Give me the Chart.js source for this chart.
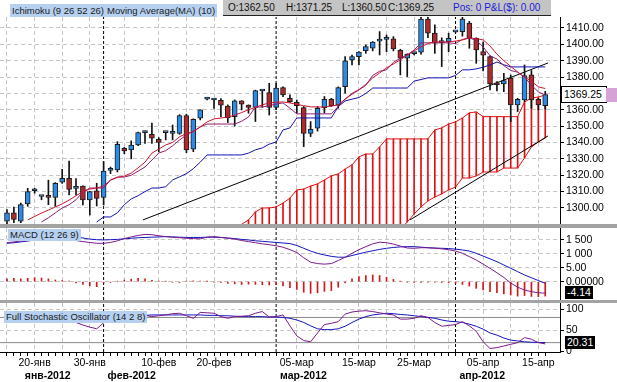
<!DOCTYPE html>
<html><head><meta charset="utf-8">
<script src="https://cdn.jsdelivr.net/npm/chart.js@4.4.1/dist/chart.umd.min.js"></script>
<style>
html,body{margin:0;padding:0;background:#fff;}
body{width:617px;height:382px;position:relative;overflow:hidden;font-family:"Liberation Sans",Arial,sans-serif;}
canvas{position:absolute;left:0;display:block;}
.lbl{position:absolute;height:13px;line-height:13px;font-size:9.5px;color:#1a1a1a;background:#b5d0f0;padding:0 2px;white-space:nowrap;}
.sep{position:absolute;left:0;width:617px;background:#a3a3a3;}
.hdr{position:absolute;top:0;left:223px;width:328px;height:15px;background:#c4c4c4;border-bottom:1px solid #222;}
.hdr span{position:absolute;top:2px;font-size:10px;line-height:12px;white-space:nowrap;color:#111;}
.box{position:absolute;font-size:10.5px;line-height:15px;height:15px;white-space:nowrap;padding:0 2px;}
</style></head>
<body>
<canvas id="cMain" width="617" height="224" style="top:0"></canvas>
<div class="sep" style="top:224px;height:4px"></div>
<canvas id="cMacd" width="617" height="72" style="top:228px"></canvas>
<div class="sep" style="top:300px;height:3px"></div>
<canvas id="cSto" width="617" height="79" style="top:303px"></canvas>

<div class="lbl" style="left:10px;top:4px">Ichimoku (9 26 52 26)</div>
<div class="lbl" style="left:105px;top:4px">Moving Average(MA) (10)</div>
<div class="hdr"><span id="hO" style="left:5px"></span><span id="hH" style="left:63px"></span><span id="hL" style="left:119px"></span><span id="hC" style="left:165px"></span><span style="left:230px;color:#1a1ad8">Pos: 0 P&amp;L($): 0.00</span></div>
<div class="lbl" style="left:8px;top:229px;height:12px;line-height:12px">MACD (12 26 9)</div>
<div class="lbl" style="left:4px;top:311px;height:12px;line-height:12px">Full Stochastic Oscillator (14 2 8)</div>
<div id="priceBox" class="box" style="left:561px;width:40px;background:#fff;border:1px solid #000;height:15px;line-height:15px;color:#000"></div>
<div id="priceTag" style="position:absolute;left:606px;width:11px;height:14px;background:#d6a3d6"></div>
<div id="macdBox" class="box" style="left:565px;background:#000;color:#fff;height:13px;line-height:13px"></div>
<div id="stoBox" class="box" style="left:565px;background:#000;color:#fff;height:13px;line-height:13px"></div>

<script>
// ---------------- DATA ----------------
const dates = [
 '2012-01-15','2012-01-17','2012-01-18','2012-01-19','2012-01-20','2012-01-22','2012-01-23','2012-01-24','2012-01-25','2012-01-26',
 '2012-01-27','2012-01-29','2012-01-30','2012-01-31','2012-02-01','2012-02-02','2012-02-03','2012-02-05','2012-02-06','2012-02-07',
 '2012-02-08','2012-02-09','2012-02-10','2012-02-12','2012-02-13','2012-02-14','2012-02-15','2012-02-16','2012-02-17','2012-02-19',
 '2012-02-20','2012-02-21','2012-02-22','2012-02-23','2012-02-24','2012-02-26','2012-02-27','2012-02-28','2012-02-29','2012-03-01',
 '2012-03-02','2012-03-04','2012-03-05','2012-03-06','2012-03-07','2012-03-08','2012-03-09','2012-03-11','2012-03-12','2012-03-13',
 '2012-03-14','2012-03-15','2012-03-16','2012-03-18','2012-03-19','2012-03-20','2012-03-21','2012-03-22','2012-03-23','2012-03-25',
 '2012-03-26','2012-03-27','2012-03-28','2012-03-29','2012-03-30','2012-04-01','2012-04-02','2012-04-03','2012-04-04','2012-04-05',
 '2012-04-06','2012-04-08','2012-04-09','2012-04-10','2012-04-11','2012-04-12','2012-04-13','2012-04-15','2012-04-16'];

const opens = [
 1292,1297,1292,1302.5,1310.5,1307,1307,1306.5,1315.7,1318.1,
 1312,1313.4,1304.9,1310.4,1306.5,1323,1323.2,1336.5,1335.5,1338.5,
 1346,1345,1342,1346,1345.6,1345.6,1356.4,1335.9,1354.8,1366.5,
 1366,1365.8,1362.3,1355.8,1365.4,1362.9,1361.5,1371.5,1370.5,1361.5,
 1373.5,1367,1364.6,1361.3,1345.6,1348.7,1361.3,1366.4,1362.9,1374.2,
 1390.5,1392.5,1396.2,1397.6,1402,1403,1403.3,1396.4,1391.5,1394.3,
 1395.2,1415.5,1406.8,1401,1401.7,1407.6,1407.8,1413,1403.7,1395.5,
 1392.5,1375.6,1375.8,1379.3,1363,1366,1381.3,1366.4,1362.5];
const highs = [
 1299,1300.6,1303,1312,1312,1307.3,1317,1315.5,1323.6,1328.7,
 1318,1313.6,1310.2,1315.1,1328.3,1325,1340.5,1337,1341,1346.3,
 1347,1351.8,1343,1346.5,1350.7,1357,1357.3,1354.5,1360,1367.5,
 1366.6,1366.8,1363,1366,1365.6,1363,1372,1372,1376.2,1376.2,
 1374,1369.1,1366,1362,1352.8,1362,1368.1,1367,1374,1392.5,
 1393.5,1395.6,1399.6,1401.7,1407.8,1405.7,1404.7,1397,1394.2,1395,
 1417,1417,1411.9,1404,1406.8,1408,1417,1414,1404,1401.3,
 1393,1377.2,1382.3,1381.3,1367,1387.4,1384,1367,1371.25];
const lows = [
 1290,1291,1291,1301,1309,1305,1302,1301,1315,1307.9,
 1308,1301.8,1295.7,1301.2,1301.8,1321,1322,1333,1330,1338,
 1339.5,1339.5,1334.4,1341.6,1341.6,1345,1333.8,1334.4,1353.8,1366,
 1360.9,1355.8,1352.2,1350.1,1359.9,1357.9,1352.8,1361.5,1356.8,1360,
 1368,1364.5,1357.9,1337.5,1343.6,1347,1358,1362,1361,1370.1,
 1387.4,1387.4,1394.5,1396,1393.5,1395.5,1396,1381.3,1380.3,1393.5,
 1394,1404.1,1394.5,1386.4,1395.5,1407,1405,1397.6,1388.4,1383.8,
 1372.1,1371.5,1371,1352.8,1358.9,1365,1360.9,1359.9,1360.5];
const closes = [
 1297,1293,1302,1310,1311,1307.2,1306.5,1315.1,1318.1,1311.4,
 1312.5,1304.9,1310,1305.9,1322.6,1323.6,1338.9,1334.8,1338.5,1346,
 1346.5,1342.6,1340,1346.4,1346,1356.4,1335.5,1354.2,1359.9,1366.8,
 1366.4,1362.8,1355.2,1365.4,1363.4,1361.5,1371.7,1371.9,1361.5,1373.2,
 1369.1,1365,1362.5,1345.6,1348.1,1360.9,1366.4,1362.5,1373.5,1389.9,
 1392.5,1395.2,1398.6,1401.3,1402.3,1403.2,1397.2,1391.5,1394,1394.6,
 1415.5,1406.8,1400.7,1401.3,1403.7,1407.8,1415.5,1403.7,1396.6,1393.3,
 1375.8,1375.3,1377.8,1363,1366.4,1380.9,1366,1363,1369.25];

const ma10 = [
 null,null,null,1292.7,1294.8,1296.9,1298.7,1300.6,1302.5,1304.8,
 1307.5,1310.0,1311.5,1312.2,1313.4,1317,1318.7,1319.5,1321.3,1324.5,
 1328,1333.5,1336,1338.5,1340,1343.5,1345.5,1346.5,1349.5,1352.6,
 1354.4,1355,1355.5,1356.7,1358.3,1360,1361.5,1363,1364.2,1364.6,
 1364.8,1364.2,1363.3,1362.5,1361.8,1361.7,1361.7,1362.3,1363,1366.5,
 1370,1372.3,1375.5,1379.5,1382.5,1385.6,1388,1390.5,1393.5,1396,
 1398.5,1400.5,1401.5,1401.5,1401.5,1402,1402.7,1403.9,1403.5,1402.7,
 1399,1394,1390,1386.5,1383.1,1380,1377.5,1374,1373];
const tenkan = [
 null,null,null,null,null,1291.4,1294,1297,1300,1302,
 1305,1309.8,1312.2,1312.2,1312.2,1317.1,1318.9,1318.9,1320,1322.5,
 1325,1329.3,1333.6,1335,1338,1341.5,1344.6,1347,1349.5,1351.3,
 1351.3,1351.3,1351.3,1351.3,1353,1355.6,1361.7,1361.7,1362.5,1363.5,
 1364.2,1361,1357.5,1357.5,1357.5,1357.5,1357.5,1357.5,1362,1366.5,
 1369.5,1372.1,1375,1381,1383.5,1384.4,1389,1391.5,1393.5,1396.5,
 1400.9,1400.9,1400.9,1400.9,1400.9,1400.5,1403,1403.9,1402.5,1398.5,
 1393,1391,1387,1384,1383,1380,1375,1371,1369];
const kijun = [
 null,null,null,null,null,null,null,null,null,null,
 null,null,null,1291.4,1294.5,1294.5,1297,1302,1305.5,1307.5,
 1310,1312.2,1312.2,1313,1317.1,1319,1321,1324,1328,1332.4,
 1332.4,1332.4,1332.4,1332.4,1332.4,1333.5,1335.5,1336.7,1339,1340.3,
 1347.7,1348.9,1355,1355,1355,1355,1355,1355,1362,1365.4,
 1366.5,1367.5,1370,1373.3,1373.3,1373.3,1373.3,1373.3,1373.3,1377.5,
 1378.5,1379.5,1379.5,1379.5,1379.5,1381,1384.4,1384.4,1385,1386,
 1387.4,1389.2,1387.5,1386.2,1386.2,1386.2,1386.2,1386.2,1386.2];
const cloudUpper = [
 null,null,null,null,null,null,null,null,null,null,
 null,null,null,null,null,null,null,null,null,null,
 null,null,null,null,null,null,null,null,null,null,
 null,null,null,null,1290,1292.7,1297.6,1300,1300,1300.6,
 1303,1306,1311,1311.6,1313.4,1314.7,1317.1,1319.6,1320.8,1323.8,
 1326.3,1331.2,1333,1333,1337.3,1342.2,1342.2,1342.2,1342.2,1342.2,
 1342.2,1342.2,1347.7,1348.9,1351.3,1352.6,1355,1358.1,1358.7,1355.8,
 1355.8,1355.8,1355.8,1355.8,1355.8,1364.8,1367.2,1367.8,1369];
const cloudLower = [
 null,null,null,null,null,null,null,null,null,null,
 null,null,null,null,null,null,null,null,null,null,
 null,null,null,null,null,null,null,null,null,null,
 null,null,null,null,1262,1263,1264,1265,1266,1267,
 1268,1269,1270,1271,1272,1273,1274,1275,1276,1277,
 1278,1279,1280,1280,1281,1280,1283,1287,1291.4,1296.3,
 1300.6,1304.3,1306.7,1308.6,1311,1312.8,1318.3,1318.3,1319.6,1322,
 1322,1322,1324.4,1324.4,1324.4,1330.6,1337.3,1340.3,1342.8];
const trendUpperX = [19.7, 78.4], trendUpperY = [1292.7, 1388.6];
const trendLowerX = [58.4, 78.4], trendLowerY = [1292.7, 1344.0];

const macdLine = [
 14.0,14.3,14.6,14.8,15.0,15.2,15.3,15.3,15.2,15.1,
 14.8,14.4,14.1,13.8,13.8,14.1,14.7,15.5,16.1,16.6,
 17.0,16.9,16.5,16.2,16.0,15.8,15.6,15.5,15.4,16.0,
 16.2,15.9,15.6,15.3,14.8,14.4,14.0,13.6,13.3,12.9,
 12.4,11.5,10.5,8.6,7.0,6.5,6.3,6.5,7.6,8.8,
 10.2,11.5,12.6,13.6,14.2,14.0,13.5,12.8,12.1,12.0,
 12.2,12.2,12.0,11.8,11.5,11.0,10.2,9.0,7.8,6.3,
 4.8,3.2,1.5,-0.5,-2.0,-3.0,-3.6,-4.0,-4.14];
const macdSignal = [
 13.8,14.0,14.3,14.6,15.0,15.4,15.7,16.0,16.2,16.2,
 16.1,15.7,15.3,15.1,15.0,15.1,15.2,15.4,15.6,15.8,
 15.9,16.0,16.1,16.2,16.1,16.0,15.9,15.9,15.9,16.0,
 16.0,15.9,15.7,15.5,15.2,15.0,14.7,14.5,14.3,14.1,
 13.9,13.7,13.0,12.0,11.0,10.2,9.6,9.1,8.8,8.8,
 9.4,10.0,10.6,11.1,11.6,12.0,12.3,12.5,12.6,12.6,
 12.4,12.2,12.1,12.0,11.9,11.7,11.4,11.0,10.2,9.2,
 8.2,7.2,6.0,4.8,3.6,2.4,1.4,0.4,-0.6];
const macdHist = [
 1.0,1.2,1.0,1.2,1.4,1.3,1.0,0.6,0.4,0.2,
 -0.5,-1.0,-1.5,-1.8,-0.5,-0.3,0.1,0.6,0.9,1.2,
 1.0,0.5,0.2,0.1,-0.2,-0.3,0.2,0.3,0.2,0.1,
 -0.2,-0.3,-0.6,-0.8,-1.0,-0.9,-1.0,-1.1,-1.2,-1.0,
 -1.5,-2.2,-2.8,-3.8,-4.2,-4.0,-3.5,-3.2,-2.0,-0.5,
 1.0,1.8,2.2,2.4,2.2,1.6,0.8,0.2,-0.2,-0.3,
 -0.3,-0.2,-0.2,-0.3,-0.4,-0.6,-1.0,-1.6,-2.4,-3.0,
 -3.6,-4.0,-4.4,-4.8,-5.2,-5.0,-5.3,-5.4,-5.2];

const stochK = [
 85,84,83,82,84,86,85,80,75,72,
 68,62,57,53,67,75,82,86,88,87,
 85,82,84,86,89,90,84,78,92,91,
 90,82,78,82,83,84,90,94,81,82,
 86,60,36,25,22,43,63,66,70,88,
 93,95,96,94,91,88,86,76,76,78,
 84,80,68,59,61,63,70,60,47,22,
 6,8,12,16,20,32,28,20,17];
const stochD = [
 86,86,85,85,84,84,83,81,79,78,
 76,73,70,68,68,70,73,77,80,83,
 85,86,86,86,86,86,86,86,86,85,
 85,84,84,83,82,82,82,82,81,81,
 80,78,74,68,60,53,51,51,53,59,
 68,76,82,86,88,90,89,87,86,84,
 82,80,78,74,71,70,68,64,59,52,
 43,38,31,26,24,22,21,20.5,20.31];
const stochLevels = [80, 20];

const gridDates = ['2012-01-15','2012-01-20','2012-01-25','2012-01-30','2012-02-05','2012-02-10','2012-02-15','2012-02-20',
 '2012-03-05','2012-03-15','2012-03-20','2012-03-25','2012-03-30','2012-04-05','2012-04-10','2012-04-15'];
const tickDates = ['2012-01-20','2012-01-30','2012-02-10','2012-02-20','2012-03-05','2012-03-15','2012-03-25','2012-04-05','2012-04-15'];
const tickLabels = ['20-янв','30-янв','10-фев','20-фев','05-мар','15-мар','25-мар','05-апр','15-апр'];
const monthStartDates = ['2012-02-01','2012-03-01','2012-04-01'];
const monthLabelDates = ['2012-01-18','2012-02-01','2012-03-01','2012-04-01'];
const monthLabels = ['янв-2012','фев-2012','мар-2012','апр-2012'];
const priceTicks = [1410,1400,1390,1380,1370,1360,1350,1340,1330,1320,1310,1300];
const macdTicks = [15,10,5,0];
const macdTickLabels = ['1 500','1 000','5.00','0.00000'];
const stochTicks = [100,50,0];
const stochTickLabels = ['100','50','0'];

// -------------- checks ---------------
const N = dates.length;
[['opens',opens],['highs',highs],['lows',lows],['closes',closes],['ma10',ma10],['tenkan',tenkan],['kijun',kijun],
 ['cloudUpper',cloudUpper],['cloudLower',cloudLower],['macdLine',macdLine],['macdSignal',macdSignal],['macdHist',macdHist],
 ['stochK',stochK],['stochD',stochD]].forEach(([n,a])=>{ if(a.length!==N) throw new Error(n+' length '+a.length+' vs '+N); });

// -------------- rendering ------------
Chart.defaults.font.family = "'Liberation Sans', Arial, sans-serif";
Chart.defaults.color = '#000';
const X_MIN = -1.014, X_MAX = 80.14;
const idxOf = d => dates.indexOf(d);
const gridIdx = gridDates.map(idxOf);
const tickIdx = tickDates.map(idxOf);
const sepIdx = monthStartDates.map(idxOf);
const monthIdx = monthLabelDates.map(idxOf);
const GRID = '#c6c6c6', DASH = [4,3];
const BLUE_BODY = '#2b8be6', RED_BODY = '#ad2b2b', EDGE = '#1c1c1c';

const series = arr => arr.map((v,i)=>({x:i, y:v}));
const pair = (xs, ys) => xs.map((x,i)=>({x, y:ys[i]}));
function sepData(min,max){ const d=[]; sepIdx.forEach(s=>{ d.push({x:s,y:min},{x:s,y:max},{x:s,y:null}); }); return d; }
function lineDs(data, color, order, extra){ return Object.assign({type:'line', data, borderColor:color, borderWidth:1, pointRadius:0, tension:0, fill:false, spanGaps:false, order}, extra||{}); }
const noPad = s => { s.paddingTop = 0; s.paddingBottom = 0; s.paddingLeft = 0; s.paddingRight = 0; };

function xHidden(){
  return { type:'linear', min:X_MIN, max:X_MAX, offset:false,
    afterBuildTicks: s => { s.ticks = gridIdx.map(v=>({value:v})); },
    grid:{offset:false, color:GRID, drawTicks:false},
    border:{display:false, dash:DASH},
    ticks:{display:false},
    afterFit: s => { s.height = 0; noPad(s); } };
}
function yRight(min, max, ticks, labels, gridColor){
  return { type:'linear', position:'right', min, max,
    afterBuildTicks: s => { s.ticks = ticks.map(v=>({value:v})); },
    afterFit: s => { s.width = 57; noPad(s); },
    grid:{ color: gridColor || GRID, drawTicks:true, tickLength:4, tickColor:'#000' },
    border:{ display:true, color:'#000', dash:DASH },
    ticks:{ color:'#000', padding:2, font:{size:10.5}, callback:(v,i)=>labels[i] } };
}
const base = { responsive:false, animation:false, events:[],
  plugins:{legend:{display:false}, tooltip:{enabled:false}} };

const P_MIN = 1290.2, P_MAX = 1416.7;
const mainChart = new Chart(document.getElementById('cMain'), {
  type:'line',
  data:{ datasets:[
    lineDs(series(ma10), '#cc1530', 0),
    lineDs(series(tenkan), '#8e1d70', 1),
    lineDs(series(kijun), '#1212b4', 2),
    {type:'bar', data: dates.map((d,i)=>({x:i, y:[opens[i], closes[i]]})),
      backgroundColor: closes.map((c,i)=> c>=opens[i] ? BLUE_BODY : RED_BODY),
      borderColor:EDGE, borderWidth:1, borderSkipped:false, barThickness:5, grouped:false, minBarLength:2, order:3},
    {type:'bar', data: dates.map((d,i)=>({x:i, y:[lows[i], highs[i]]})),
      backgroundColor:'#111', barThickness:1, grouped:false, order:4},
    lineDs(pair(trendUpperX, trendUpperY), '#000', 5),
    lineDs(pair(trendLowerX, trendLowerY), '#000', 5),
    lineDs(series(cloudUpper), '#e01010', 6),
    lineDs(series(cloudLower), '#e01010', 6),
    {type:'bar', data: dates.map((d,i)=>({x:i, y: cloudUpper[i]==null ? null : [cloudLower[i], cloudUpper[i]]})),
      backgroundColor:'#e01010', barThickness:1, grouped:false, order:7},
    lineDs(sepData(P_MIN, P_MAX), '#000', 8, {borderDash:[3,2]})
  ]},
  options: Object.assign({}, base, {
    layout:{padding:{top:17, left:0, right:0, bottom:0}},
    scales:{ x:xHidden(), y:yRight(P_MIN, P_MAX, priceTicks, priceTicks.map(v=>v.toFixed(2))) }
  })
});

const M_MIN = -6.6, M_MAX = 19.3;
const macdChart = new Chart(document.getElementById('cMacd'), {
  type:'line',
  data:{ datasets:[
    lineDs(series(macdLine), '#7a1a8a', 0),
    lineDs(series(macdSignal), '#1414c0', 1),
    {type:'bar', data: series(macdHist), backgroundColor:'#d01818', barThickness:1, grouped:false, order:2},
    lineDs(sepData(M_MIN, M_MAX), '#000', 3, {borderDash:[3,2]})
  ]},
  options: Object.assign({}, base, {
    layout:{padding:0},
    scales:{ x:xHidden(), y:yRight(M_MIN, M_MAX, macdTicks, macdTickLabels) }
  })
});

const S_MIN = -2.3, S_MAX = 114.4;
const stoChart = new Chart(document.getElementById('cSto'), {
  type:'line',
  data:{ datasets:[
    lineDs(series(stochK), '#7a1a8a', 0),
    lineDs(series(stochD), '#1414c0', 1),
    lineDs(pair([X_MIN, X_MAX], [stochLevels[0], stochLevels[0]]), '#8a8a8a', 2),
    lineDs(pair([X_MIN, X_MAX], [stochLevels[1], stochLevels[1]]), '#8a8a8a', 2),
    lineDs(sepData(S_MIN, S_MAX), '#000', 3, {borderDash:[3,2]})
  ]},
  options: Object.assign({}, base, {
    layout:{padding:0},
    scales:{
      x:{ type:'linear', min:X_MIN, max:X_MAX, offset:false, position:'bottom', weight:1,
        afterBuildTicks: s => { s.ticks = dates.map((d,i)=>({value:i})); },
        afterFit: s => { s.height = 18; noPad(s); },
        grid:{ offset:false, drawTicks:true, tickLength:4, tickColor:'#000', tickWidth:1,
          color: c => (c.tick && gridIdx.includes(c.tick.value)) ? GRID : 'rgba(0,0,0,0)' },
        border:{ display:true, color:'#000', dash:DASH },
        ticks:{ autoSkip:false, minRotation:0, maxRotation:0, padding:1, color:'#000', font:{size:10.5},
          callback: v => { const k = tickIdx.indexOf(v); return k<0 ? '' : tickLabels[k]; } } },
      xm:{ type:'linear', min:X_MIN, max:X_MAX, offset:false, position:'bottom', weight:2,
        afterBuildTicks: s => { s.ticks = monthIdx.map(v=>({value:v})); },
        afterFit: s => { s.height = 12; noPad(s); },
        grid:{display:false, drawTicks:false}, border:{display:false},
        ticks:{ autoSkip:false, minRotation:0, maxRotation:0, padding:0, align:'start', labelOffset:4, color:'#000',
          font:{size:10.5, weight:'bold'}, callback:(v,i)=>monthLabels[i] } },
      y: yRight(S_MIN, S_MAX, stochTicks, stochTickLabels, c => (c.tick && c.tick.value===0) ? 'rgba(0,0,0,0)' : GRID)
    }
  })
});

// ---- value tags & header, placed through the scales ----
const L = N-1;
document.getElementById('hO').textContent = 'O:' + opens[L].toFixed(2);
document.getElementById('hH').textContent = 'H:' + highs[L].toFixed(2);
document.getElementById('hL').textContent = 'L:' + lows[L].toFixed(2);
document.getElementById('hC').textContent = 'C:' + closes[L].toFixed(2);
const pb = document.getElementById('priceBox');
pb.textContent = closes[L].toFixed(2);
const py = mainChart.scales.y.getPixelForValue(closes[L]);
pb.style.top = (py - 9) + 'px';
document.getElementById('priceTag').style.top = (py - 7) + 'px';
const mb = document.getElementById('macdBox');
mb.textContent = macdLine[L].toFixed(2);
mb.style.top = (228 + macdChart.scales.y.getPixelForValue(macdLine[L]) - 7) + 'px';
const sb = document.getElementById('stoBox');
sb.textContent = stochD[L].toFixed(2);
sb.style.top = (303 + stoChart.scales.y.getPixelForValue(stochD[L]) - 7) + 'px';
</script>
</body></html>
